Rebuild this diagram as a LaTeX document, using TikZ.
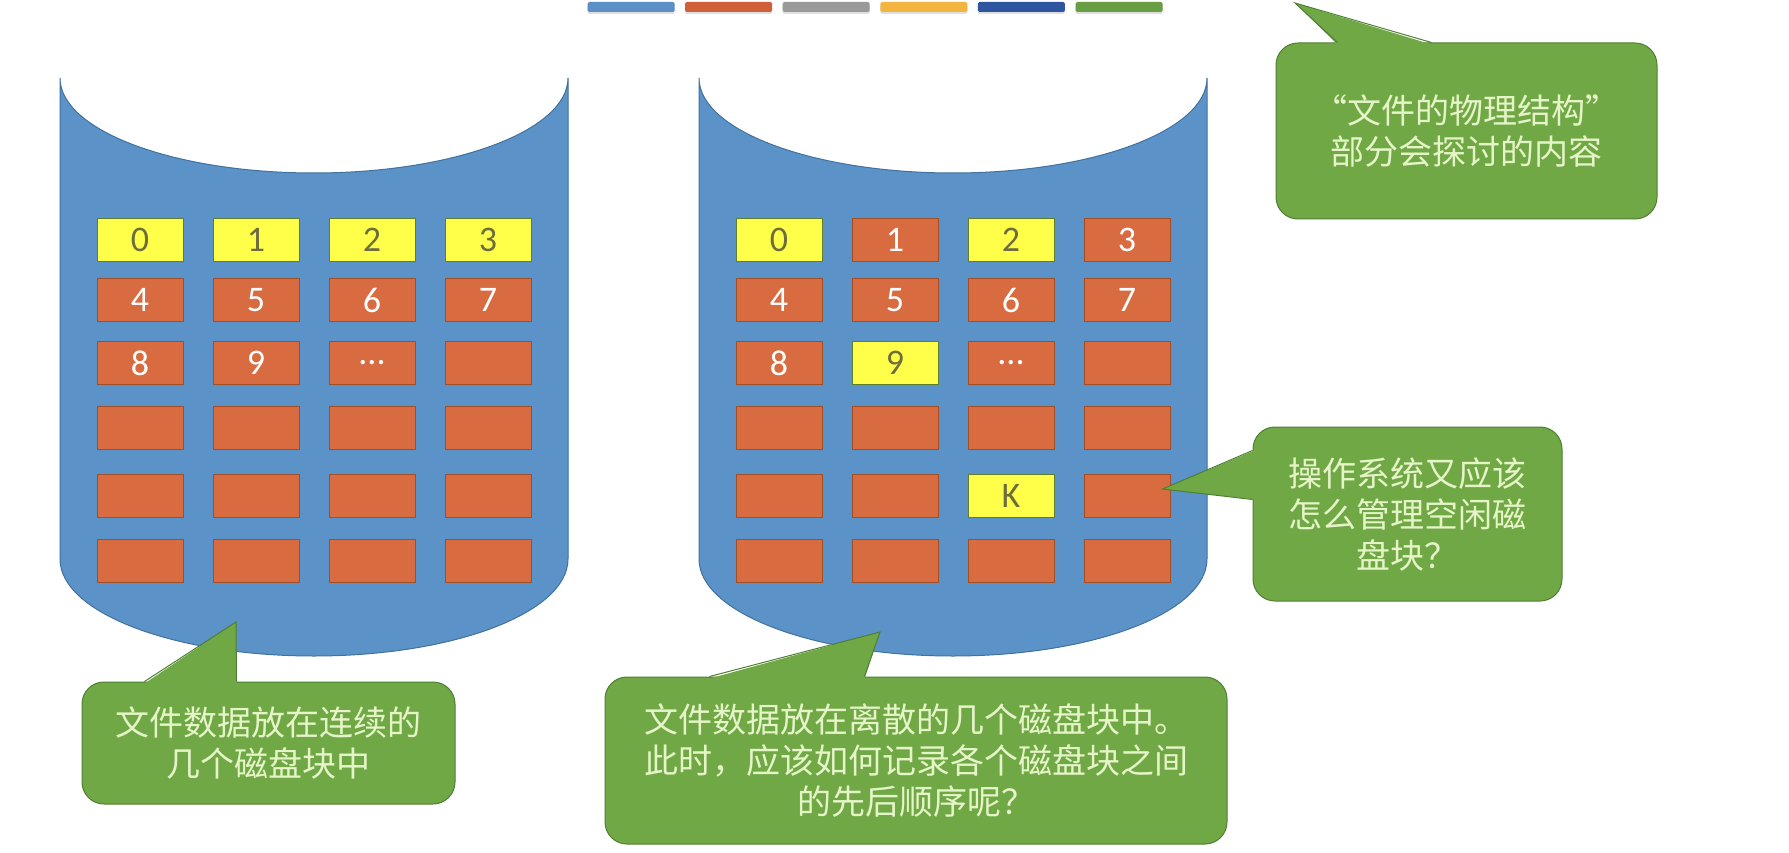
\documentclass[tikz,border=0pt]{standalone}
\usepackage{fontspec}
\setmainfont{Carlito}
\newfontfamily\cjk{Noto Sans CJK SC}
\usepackage{xcolor}
\usepackage{tikz}
\usetikzlibrary{positioning,calc,shadows}
\definecolor{azulDisco}{HTML}{5B93C9}
\definecolor{azulBorda}{HTML}{41719C}
\definecolor{laranjaBloco}{HTML}{D86C40}
\definecolor{laranjaBorda}{HTML}{A04E28}
\definecolor{amareloBloco}{HTML}{FFFF4A}
\definecolor{amareloBorda}{HTML}{5F7F2F}
\definecolor{textoAmarelo}{HTML}{6E6E3C}
\definecolor{verdeBalao}{HTML}{70A846}
\definecolor{verdeBorda}{HTML}{4F7F33}
\definecolor{textoBalao}{HTML}{E6F5C8}
\definecolor{leg1}{HTML}{5B8FC6}
\definecolor{leg2}{HTML}{D0603A}
\definecolor{leg3}{HTML}{9A9A9A}
\definecolor{leg4}{HTML}{F2B640}
\definecolor{leg5}{HTML}{2E56A0}
\definecolor{leg6}{HTML}{6A9E45}
\tikzset{
    bloco/.style={
        rectangle,
        draw,
        line width=1pt,
        minimum width=86pt,
        minimum height=43pt,
        inner sep=0pt,
        font=\fontsize{36}{36}\selectfont
    },
    blocoUsado/.style={bloco, fill=laranjaBloco, draw=laranjaBorda, text=white},
    blocoArquivo/.style={bloco, fill=amareloBloco, draw=amareloBorda, text=textoAmarelo},
    balao/.style={
        rectangle,
        rounded corners=22pt,
        fill=verdeBalao,
        draw=verdeBorda,
        line width=1pt,
        text=textoBalao,
        align=center,
        inner sep=0pt,
        font=\cjk\fontsize{34}{41}\selectfont
    },
    ponta/.style={fill=verdeBalao},
    pontaBorda/.style={draw=verdeBorda, line width=1pt},
    cilindro/.style={fill=azulDisco, draw=azulBorda, line width=1pt},
    legenda/.style={rectangle, minimum width=87pt, minimum height=10pt, inner sep=0pt, rounded corners=1.5pt,
        drop shadow={shadow xshift=0pt, shadow yshift=-2pt, opacity=0.25}}
}

\begin{document}
\begin{tikzpicture}[x=1pt, y=-1pt]
        \useasboundingbox[fill=white] (0,0) rectangle (1789,853);

        \foreach \i in {1,...,6}
            \node[legenda, fill=leg\i] (leg\i) at (631+97.6*\i-97.6, 7) {};

        \foreach \disco/\cx in {E/314, D/953} {
            \path[cilindro] (\cx-254,78) -- (\cx-254,559)
                arc[start angle=180, end angle=0, x radius=254, y radius=97]
                -- (\cx+254,78)
                arc[start angle=0, end angle=180, x radius=254, y radius=95] -- cycle;
            \foreach \lin/\y in {0/240, 1/300, 2/363, 3/428, 4/496, 5/561}
                \foreach \col in {0,...,3} {
                    \pgfmathtruncatemacro\idx{4*\lin+\col}
                    \pgfmathtruncatemacro\amarelo{(\cx<500 && \idx<4) || (\cx>500 && (\idx==0 || \idx==2 || \idx==9 || \idx==18))}
                    \pgfmathsetmacro\xb{\cx+116*\col-174}
                    \ifnum\amarelo=1 \tikzset{corBloco/.style=blocoArquivo}\else\tikzset{corBloco/.style=blocoUsado}\fi
                    \node[corBloco] (\disco\idx) at (\xb,\y)
                        {\ifnum\idx<10 \idx\else\ifnum\idx=10 ...\else\ifnum\idx=18 \ifnum\cx>500 K\fi\fi\fi\fi};
                }
        }

        \node[balao, minimum width=381pt, minimum height=176pt] (estrutura) at (1466.5,131) {“文件的物理结构”\\部分会探讨的内容};
        \node[balao, minimum width=309pt, minimum height=174pt] (gerencia) at (1407.5,514) {操作系统又应该\\怎么管理空闲磁\\盘块？};
        \node[balao, minimum width=373pt, minimum height=122pt] (continua) at (268.5,743) {文件数据放在连续的\\几个磁盘块中};
        \node[balao, minimum width=622pt, minimum height=167pt] (discreta) at (916,760.5) {文件数据放在离散的几个磁盘块中。\\此时，应该如何记录各个磁盘块之间\\的先后顺序呢？};

        \coordinate (pEstrutura) at (1295,3);
        \coordinate (pGerencia) at ($(D19.east)+(-8,-7)$);
        \coordinate (pContinua) at (236,622);
        \coordinate (pDiscreta) at (880,632);

        \fill[ponta] ($(estrutura.north west)+(62,2)$) -- (pEstrutura) -- ($(estrutura.north west)+(156,2)$) -- cycle;
        \draw[pontaBorda] ($(estrutura.north west)+(62,0)$) -- (pEstrutura) -- ($(estrutura.north west)+(156,0)$);
        \fill[ponta] ($(gerencia.north west)+(2,24)$) -- (pGerencia) -- ($(gerencia.north west)+(2,73)$) -- cycle;
        \draw[pontaBorda] ($(gerencia.north west)+(0,24)$) -- (pGerencia) -- ($(gerencia.north west)+(0,73)$);
        \fill[ponta] ($(continua.north west)+(63,2)$) -- (pContinua) -- ($(continua.north west)+(155,2)$) -- cycle;
        \draw[pontaBorda] ($(continua.north west)+(63,0)$) -- (pContinua) -- ($(continua.north west)+(155,0)$);
        \fill[ponta] ($(discreta.north west)+(105,2)$) -- (pDiscreta) -- ($(discreta.north west)+(260,2)$) -- cycle;
        \draw[pontaBorda] ($(discreta.north west)+(105,0)$) -- (pDiscreta) -- ($(discreta.north west)+(260,0)$);
    \end{tikzpicture}
\end{document}
